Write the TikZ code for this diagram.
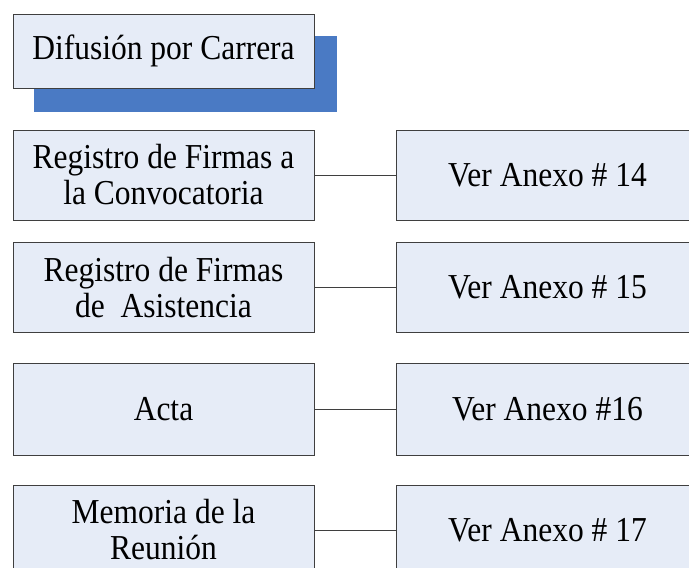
\documentclass[tikz,border=0pt]{standalone}
\usepackage{fontspec}
\setmainfont{Liberation Serif}[FakeStretch=0.9]
\usetikzlibrary{positioning}
\definecolor{boxfill}{HTML}{E6ECF7}
\definecolor{shadowblue}{HTML}{4A7AC4}
\definecolor{edgegray}{HTML}{3F3F3F}
\begin{document}
\begin{tikzpicture}[x=1pt,y=-1pt,
  box/.style={draw=edgegray,fill=boxfill,line width=1pt,inner sep=0pt,
    minimum width=301pt,minimum height=90pt,align=center,
    font=\fontsize{35}{36}\selectfont},
  anexo/.style={box,minimum width=303pt},
  link/.style={draw=edgegray,line width=0.8pt},
  ]
\useasboundingbox (0,0) rectangle (689,568);
\clip (0,0) rectangle (689,568);
\fill[shadowblue] (34,36) rectangle (337,112);
\node[box,minimum height=74pt] (difusion) at (163.5,51) {Difusión por Carrera};

\node[box] (convocatoria) at (163.5,175) {Registro de Firmas a\\la Convocatoria};
\node[anexo] (anexo14) at (547.5,175) {Ver Anexo \# 14};
\node[box] (asistencia) at (163.5,287.5) {Registro de Firmas\\de\ \ Asistencia};
\node[anexo] (anexo15) at (547.5,287.5) {Ver Anexo \# 15};
\node[box,minimum height=92pt] (acta) at (163.5,409) {Acta};
\node[anexo,minimum height=92pt] (anexo16) at (547.5,409) {Ver Anexo \#16};
\node[box] (memoria) at (163.5,530) {Memoria de la\\Reunión};
\node[anexo] (anexo17) at (547.5,530) {Ver Anexo \# 17};

\draw[link] (convocatoria) -- (anexo14);
\draw[link] (asistencia) -- (anexo15);
\draw[link] (acta) -- (anexo16);
\draw[link] (memoria) -- (anexo17);

\end{tikzpicture}
\end{document}
